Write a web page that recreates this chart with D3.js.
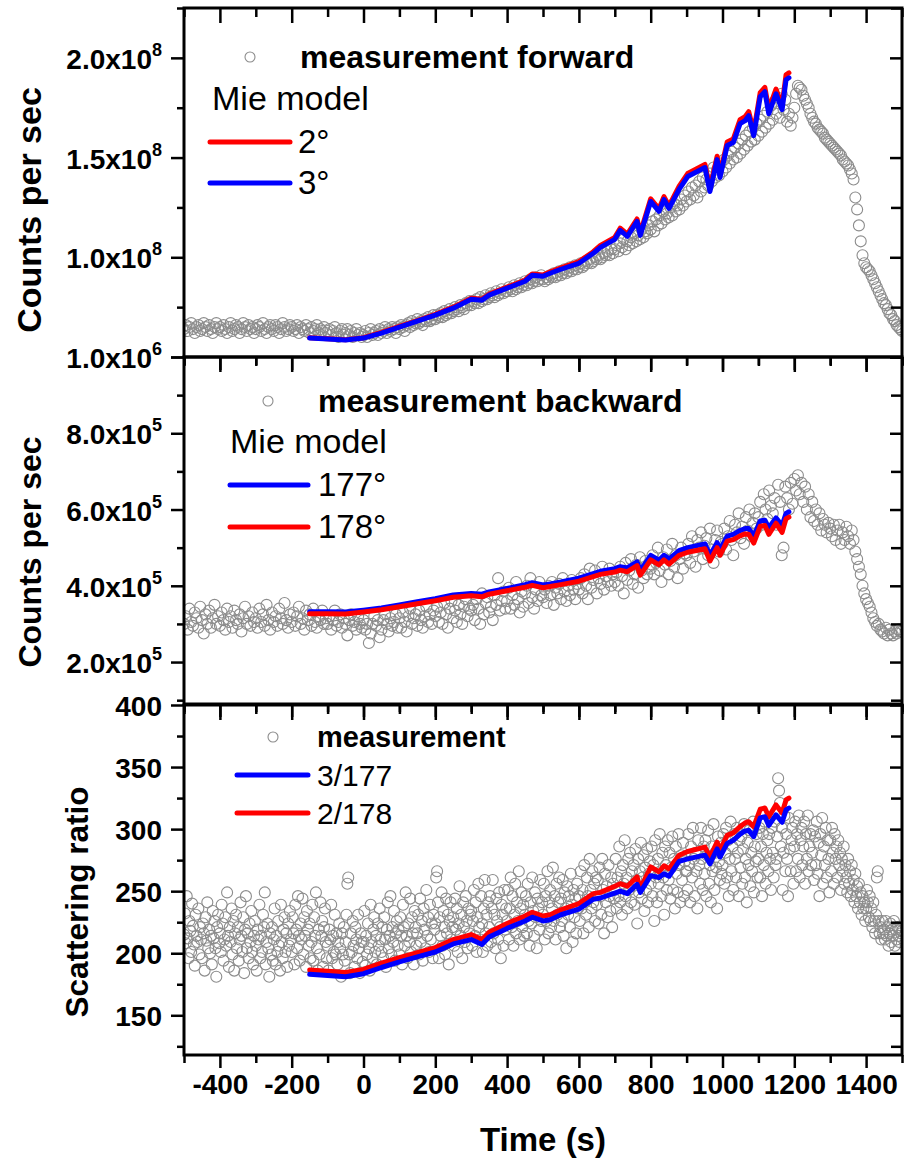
<!DOCTYPE html>
<html>
<head>
<meta charset="utf-8">
<script src="https://cdn.jsdelivr.net/npm/d3@7"></script>
<style>
  body { margin: 0; background: #fff; }
  svg { display: block; font-family: "Liberation Sans", Arial, sans-serif; }
</style>
</head>
<body>
<svg id="chart" width="908" height="1167"></svg>
<script>
// measured series start at t = -500 s, sampled every step seconds
const measStart = -500;
const fwdStep = 5, bwdStep = 5, ratioStep = 2.5;

// forward scattering, in 10^6 counts per sec (one row = 100 s)
const fwdMeas = [
  64, 66, 63, 65, 67, 64, 62, 65, 66, 63, 64, 67, 65, 63, 66, 64, 62, 65, 67, 64,
  65, 63, 66, 64, 62, 65, 67, 63, 64, 66, 65, 62, 64, 67, 65, 63, 66, 64, 65, 62,
  64, 66, 65, 63, 67, 64, 62, 65, 66, 64, 63, 66, 65, 62, 64, 67, 65, 63, 64, 66,
  65, 63, 64, 66, 62, 65, 64, 63, 66, 64, 62, 65, 63, 64, 66, 62, 64, 63, 65, 62,
  63, 64, 61, 63, 65, 62, 60, 63, 64, 61, 62, 64, 61, 63, 60, 62, 64, 61, 62, 60,
  61, 63, 60, 62, 64, 61, 62, 63, 61, 64, 62, 63, 65, 62, 64, 63, 65, 64, 62, 65,
  64, 66, 65, 63, 66, 67, 65, 68, 66, 67, 69, 67, 68, 66, 69, 68, 70, 68, 69, 71,
  69, 71, 70, 72, 70, 73, 71, 72, 74, 72, 73, 75, 74, 73, 76, 75, 74, 77, 76, 78,
  76, 78, 77, 79, 77, 80, 78, 79, 81, 79, 80, 82, 81, 80, 83, 81, 82, 84, 82, 83,
  83, 85, 84, 83, 86, 84, 85, 87, 85, 86, 88, 86, 87, 89, 87, 88, 90, 88, 89, 91,
  89, 88, 90, 89, 91, 90, 92, 90, 91, 93, 91, 92, 94, 92, 93, 95, 93, 94, 96, 94,
  95, 97, 95, 96, 98, 97, 99, 97, 98, 100, 99, 101, 99, 100, 102, 101, 103, 101, 104, 102,
  104, 106, 103, 107, 105, 109, 104, 108, 106, 110, 107, 112, 108, 111, 109, 114, 110, 113, 112, 116,
  114, 118, 113, 119, 116, 121, 117, 123, 119, 122, 120, 125, 121, 127, 123, 126, 124, 129, 126, 131,
  128, 133, 129, 135, 131, 136, 130, 138, 133, 140, 135, 139, 136, 142, 138, 145, 140, 144, 141, 147,
  143, 149, 145, 151, 147, 153, 149, 155, 150, 157, 152, 159, 154, 161, 156, 163, 158, 165, 159, 167,
  161, 169, 163, 171, 165, 173, 167, 176, 169, 178, 172, 180, 170, 182, 174, 179, 168, 172, 166, 170,
  175, 182, 186, 185, 184, 181, 179, 177, 175, 172, 170, 168, 167, 165, 164, 163, 162, 160, 159, 158,
  157, 156, 155, 154, 153, 152, 151, 149, 148, 147, 146, 144, 142, 139, 130, 124, 116, 108, 101, 97,
  95, 94, 93, 91, 89, 87, 85, 83, 81, 79, 77, 76, 74, 72, 71, 69, 68, 66, 65, 64,
  63
];

// backward scattering, in 10^3 counts per sec (one row = 100 s)
const bwdMeas = [
  300, 320, 285, 340, 305, 295, 330, 315, 290, 345, 310, 275, 325, 300, 335, 290, 315, 350, 300, 320,
  295, 330, 310, 285, 340, 305, 320, 290, 335, 310, 300, 325, 280, 315, 345, 300, 320, 295, 330, 305,
  315, 290, 340, 305, 325, 295, 350, 310, 285, 330, 305, 320, 295, 340, 315, 300, 355, 310, 290, 325,
  305, 330, 295, 320, 345, 300, 315, 285, 335, 310, 325, 295, 340, 305, 290, 320, 310, 335, 300, 315,
  300, 320, 285, 310, 335, 295, 305, 325, 290, 315, 300, 270, 310, 325, 295, 305, 285, 320, 300, 290,
  310, 285, 300, 250, 275, 300, 320, 295, 310, 265, 285, 310, 325, 300, 280, 315, 295, 305, 325, 290,
  315, 290, 330, 305, 280, 320, 340, 300, 315, 325, 295, 335, 310, 290, 320, 345, 305, 325, 300, 335,
  320, 345, 305, 330, 300, 355, 325, 290, 340, 360, 315, 335, 305, 350, 325, 300, 345, 365, 320, 340,
  335, 350, 310, 365, 340, 300, 380, 325, 355, 370, 330, 345, 310, 375, 350, 420, 335, 360, 385, 340,
  360, 395, 340, 375, 350, 410, 365, 330, 385, 345, 380, 400, 355, 420, 370, 340, 390, 360, 410, 375,
  370, 390, 355, 400, 375, 410, 350, 395, 380, 405, 365, 420, 385, 360, 400, 375, 415, 390, 365, 405,
  390, 420, 380, 430, 400, 365, 445, 395, 415, 440, 380, 420, 405, 450, 390, 425, 410, 445, 400, 430,
  410, 435, 400, 450, 425, 380, 460, 415, 440, 470, 405, 430, 455, 395, 475, 440, 420, 465, 430, 450,
  445, 480, 430, 460, 500, 440, 410, 475, 455, 495, 430, 465, 510, 450, 480, 420, 470, 500, 445, 485,
  480, 510, 460, 530, 490, 450, 520, 500, 540, 470, 505, 525, 480, 550, 495, 460, 520, 545, 490, 515,
  510, 550, 495, 530, 570, 520, 480, 560, 540, 590, 525, 555, 510, 580, 545, 600, 530, 565, 590, 550,
  580, 620, 560, 640, 600, 575, 650, 610, 590, 630, 560, 665, 620, 480, 500, 660, 630, 600, 670, 615,
  680, 650, 690, 640, 670, 620, 660, 600, 640, 580, 620, 570, 600, 560, 590, 545, 575, 560, 540, 565,
  550, 530, 560, 520, 545, 560, 510, 540, 520, 555, 530, 510, 545, 520, 490, 470, 450, 430, 400, 380,
  365, 355, 345, 330, 315, 305, 295, 300, 285, 280, 275, 290, 270, 285, 275, 270, 280, 275, 285, 280,
  280
];

// scattering ratio forward / backward (one row = 50 s)
const ratioMeas = [
  215, 232, 208, 246, 212, 196, 226, 218, 201, 240, 222, 207, 190, 231, 214, 209, 236, 199, 221, 211,
  196, 224, 216, 186, 229, 210, 241, 204, 219, 200, 214, 191, 234, 212, 226, 204, 181, 221, 231, 208,
  216, 201, 239, 224, 194, 211, 229, 206, 249, 214, 189, 221, 209, 236, 199, 226, 186, 216, 231, 204,
  221, 194, 211, 241, 214, 201, 229, 184, 219, 246, 204, 216, 196, 224, 209, 234, 201, 191, 214, 226,
  206, 186, 219, 211, 239, 196, 214, 201, 231, 221, 249, 191, 209, 224, 204, 181, 216, 199, 221, 194,
  211, 236, 191, 214, 201, 226, 206, 186, 239, 209, 196, 219, 229, 201, 216, 189, 224, 206, 234, 211,
  201, 229, 216, 191, 239, 219, 204, 246, 214, 194, 224, 211, 244, 199, 229, 214, 189, 234, 219, 206,
  224, 196, 209, 239, 194, 229, 214, 249, 204, 186, 219, 199, 241, 214, 226, 189, 221, 236, 209, 196,
  206, 186, 219, 211, 239, 196, 214, 201, 231, 199, 216, 191, 209, 224, 204, 181, 216, 199, 221, 194,
  209, 231, 256, 261, 199, 184, 216, 201, 226, 206, 189, 221, 211, 196, 231, 204, 184, 216, 209, 193,
  209, 234, 190, 214, 199, 224, 204, 186, 239, 209, 196, 219, 229, 201, 214, 191, 224, 206, 236, 211,
  201, 221, 196, 229, 211, 189, 219, 241, 204, 214, 246, 199, 221, 209, 234, 194, 216, 226, 206, 219,
  199, 229, 214, 191, 239, 221, 206, 249, 214, 196, 224, 209, 244, 201, 229, 216, 191, 234, 221, 206,
  216, 231, 199, 244, 209, 226, 194, 236, 219, 204, 251, 214, 229, 201, 239, 211, 224, 196, 231, 219,
  224, 261, 266, 241, 196, 229, 214, 249, 206, 234, 221, 199, 244, 216, 231, 191, 226, 241, 211, 221,
  229, 206, 244, 219, 236, 201, 224, 254, 214, 231, 196, 241, 221, 209, 246, 226, 204, 236, 216, 231,
  234, 206, 226, 251, 214, 241, 201, 229, 256, 221, 211, 246, 224, 201, 236, 259, 216, 231, 206, 241,
  221, 246, 209, 236, 259, 216, 231, 204, 244, 226, 211, 249, 221, 196, 239, 231, 206, 251, 219, 236,
  226, 251, 211, 236, 261, 221, 246, 206, 231, 256, 216, 241, 226, 266, 211, 236, 249, 221, 239, 214,
  231, 246, 216, 256, 226, 206, 241, 224, 261, 234, 214, 249, 229, 204, 244, 236, 219, 259, 226, 241,
  231, 256, 211, 246, 226, 266, 216, 241, 251, 221, 236, 269, 226, 246, 211, 256, 231, 241, 261, 221,
  244, 226, 259, 214, 249, 236, 204, 254, 231, 246, 221, 264, 239, 209, 251, 229, 244, 216, 256, 236,
  246, 226, 266, 236, 251, 216, 271, 241, 231, 261, 246, 221, 276, 251, 236, 266, 241, 256, 226, 261,
  239, 259, 224, 269, 246, 231, 276, 251, 216, 264, 241, 254, 229, 271, 246, 234, 261, 221, 256, 244,
  251, 276, 236, 261, 246, 286, 241, 266, 231, 271, 256, 291, 246, 261, 236, 276, 251, 281, 241, 266,
  254, 271, 239, 284, 259, 224, 276, 249, 266, 289, 244, 261, 279, 234, 269, 251, 284, 241, 264, 274,
  256, 286, 246, 271, 226, 291, 261, 241, 276, 256, 296, 266, 246, 281, 261, 231, 286, 271, 251, 291,
  259, 281, 244, 269, 294, 251, 276, 236, 286, 264, 249, 296, 271, 241, 279, 259, 289, 246, 274, 266,
  266, 251, 296, 271, 241, 286, 261, 301, 276, 246, 281, 266, 236, 291, 271, 256, 301, 276, 251, 286,
  264, 291, 246, 279, 299, 256, 271, 241, 286, 266, 304, 251, 281, 269, 236, 294, 274, 259, 289, 264,
  271, 296, 256, 281, 301, 261, 291, 246, 276, 306, 266, 286, 251, 296, 276, 261, 301, 281, 246, 291,
  269, 294, 256, 284, 304, 261, 276, 241, 289, 271, 299, 254, 281, 266, 306, 249, 286, 274, 296, 261,
  276, 301, 261, 286, 246, 296, 271, 306, 256, 281, 291, 266, 296, 276, 251, 301, 281, 261, 306, 271,
  276, 294, 341, 331, 321, 286, 301, 251, 281, 311, 266, 296, 276, 246, 309, 284, 266, 291, 301, 256,
  286, 306, 266, 296, 276, 311, 261, 291, 301, 271, 286, 306, 256, 296, 276, 311, 266, 286, 296, 271,
  281, 299, 259, 294, 271, 306, 264, 289, 246, 296, 279, 309, 256, 286, 271, 301, 261, 291, 276, 249,
  291, 266, 301, 281, 256, 296, 276, 286, 261, 291, 271, 281, 251, 276, 266, 286, 256, 271, 261, 249,
  276, 256, 266, 246, 271, 251, 259, 241, 264, 246, 254, 236, 256, 241, 249, 231, 246, 236, 241, 226,
  236, 251, 241, 229, 246, 226, 236, 221, 241, 226, 216, 231, 261, 266, 226, 216, 221, 211, 226, 216,
  219, 211, 226, 214, 221, 206, 216, 224, 209, 219, 214, 226, 206, 219, 211, 221, 214, 209, 219, 216,
  218
];

// Mie model, shared time grid (s)
const modelTime = [-150, -100, -50, 0, 50, 100, 150, 200, 250, 300, 330, 350, 400, 450, 470, 500, 520, 550,
  600, 640, 660, 700, 715, 735, 762, 771, 800, 823, 837, 851, 879, 903, 951, 965, 985, 993, 1013, 1030,
  1049, 1063, 1073, 1087, 1105, 1118, 1129, 1149, 1166, 1177, 1185];
// forward, 10^6 counts per sec
const mie2 = [59.7, 59.2, 58.7, 59.7, 62.3, 65.3, 68.3, 71.4, 75, 79.5, 79, 81.5, 85, 88.6, 91.6, 91.1, 92.7, 94.7,
  97.8, 102.8, 106, 110, 114.6, 111.6, 119.2, 112.2, 129.3, 124.3, 130.4, 125.8, 135.5, 142, 146.6, 134.5, 150.7,
  141.6, 157.8, 159.3, 169, 170.5, 173, 163, 182.6, 185.2, 174.2, 184.3, 176.2, 191.5, 192.5];
const mie3 = [59.5, 59, 58.5, 59.5, 62, 65, 68, 71, 74.5, 79, 78.5, 81, 84.5, 88, 91, 90.5, 92, 94,
  97, 102, 105, 109, 113.5, 110.5, 118, 111, 128, 123, 129, 124.5, 134, 140.5, 145, 133, 149,
  140, 156, 157.5, 167, 168.5, 171, 161, 180.5, 183, 172, 182, 174, 189, 190];
// backward, 10^3 counts per sec
const mie177 = [332, 332, 331, 336, 342, 350, 358, 366, 376, 380, 378, 384, 393, 403, 408, 402, 405, 410,
  420, 432, 438, 445, 450, 447, 463, 440, 480, 467, 480, 470, 492, 500, 510, 480, 513, 495, 530, 535,
  545, 550, 550, 530, 570, 572, 552, 578, 558, 590, 594];
const mie178 = [327, 327, 326, 331, 337, 345, 353, 361, 370, 374, 371, 378, 387, 396, 401, 395, 398, 403,
  412, 424, 430, 436, 441, 437, 453, 428, 468, 455, 468, 457, 480, 488, 497, 465, 500, 480, 517, 521,
  531, 536, 535, 512, 556, 558, 535, 564, 540, 576, 580];
// ratio
const ratio3_177 = [183, 182, 181, 183.5, 188.5, 193, 197, 201, 207.5, 211, 207, 213, 220, 226, 229, 226, 227, 231,
  235.5, 243.5, 244.5, 248.5, 250, 248, 255.5, 249, 262.5, 261, 264, 262, 274, 276, 279, 272, 284, 277.5, 288.5, 291,
  296, 298.5, 299, 294, 309, 310, 303, 311.5, 305.5, 315.5, 317];
const ratio2_178 = [186.5, 185.5, 184.5, 187, 192, 196.5, 200.5, 204.5, 211, 215, 211, 217, 224, 230, 233, 230, 231, 235,
  240, 248, 249, 254, 256, 254, 261.5, 252, 269.5, 265.5, 270.5, 268, 279, 282, 285.5, 277.5, 289.5, 283, 295, 297,
  302, 305, 306, 302, 316, 317, 310, 319.5, 313, 323.5, 325];

// tick labels
const xTickLabels = ["-400", "-200", "0", "200", "400", "600", "800", "1000", "1200", "1400"];
const fwdLabels = [[200, "2.0x10", "8"], [150, "1.5x10", "8"], [100, "1.0x10", "8"]];
const bwdLabels = [[1000, "1.0x10", "6"], [800, "8.0x10", "5"], [600, "6.0x10", "5"], [400, "4.0x10", "5"], [200, "2.0x10", "5"]];
const ratioLabels = [[400, "400"], [350, "350"], [300, "300"], [250, "250"], [200, "200"], [150, "150"]];

const RED = "#ff0000", BLUE = "#0000ff", GREY = "#8c8c8c";
const svg = d3.select("#chart");
const x = d3.scaleLinear().domain([-500, 1500]).range([184, 902]);
const xMajor = xTickLabels.map(Number);
const xMinor = d3.range(-500, 1501, 200);

const panels = [
  { top: 8, bottom: 357, domain: [50, 225], major: [50, 100, 150, 200], minor: [75, 125, 175, 225],
    labels: fwdLabels, meas: fwdMeas, step: fwdStep,
    lines: [[mie2, RED], [mie3, BLUE]],
    title: "Counts per sec", titleSize: 34, titleX: 41, titleY: 210,
    legend: { circle: [250, 57], head: ["measurement forward", 300, 68, 32],
      sub: ["Mie model", 212, 110],
      items: [["2°", RED, 142], ["3°", BLUE, 183]], lx: [210, 290], tx: 298, size: 33 } },
  { top: 357, bottom: 704, domain: [90, 1000], major: [200, 400, 600, 800, 1000], minor: [100, 300, 500, 700, 900],
    labels: bwdLabels, meas: bwdMeas, step: bwdStep,
    lines: [[mie177, BLUE], [mie178, RED]],
    title: "Counts per sec", titleSize: 32, titleX: 41, titleY: 552,
    legend: { circle: [268, 401], head: ["measurement backward", 318, 412, 32],
      sub: ["Mie model", 230, 453],
      items: [["177°", BLUE, 485], ["178°", RED, 527]], lx: [230, 308], tx: 318, size: 33 } },
  { top: 705, bottom: 1055, domain: [118, 400], major: [150, 200, 250, 300, 350, 400], minor: [125, 175, 225, 275, 325, 375],
    labels: ratioLabels, meas: ratioMeas, step: ratioStep,
    lines: [[ratio2_178, RED], [ratio3_177, BLUE]],
    title: "Scattering ratio", titleSize: 31.5, titleX: 88, titleY: 902,
    legend: { circle: [273, 737], head: ["measurement", 317, 747, 29],
      sub: null,
      items: [["3/177", BLUE, 775], ["2/178", RED, 813]], lx: [237, 308], tx: 317, size: 30 } }
];

function cleanAxis(g) {
  g.attr("font-family", null).attr("font-size", null);
  g.select(".domain").remove();
  g.selectAll(".tick line").attr("stroke", "#000").attr("stroke-width", 2.5);
}

const x0 = x.range()[0], x1 = x.range()[1];

panels.forEach((p, i) => {
  const y = d3.scaleLinear().domain(p.domain).range([p.bottom, p.top]);
  const g = svg.append("g");

  svg.append("clipPath").attr("id", "clip" + i)
    .append("rect").attr("x", x0).attr("y", p.top).attr("width", x1 - x0).attr("height", p.bottom - p.top);

  const plot = g.append("g").attr("clip-path", `url(#clip${i})`);
  plot.selectAll("circle")
    .data(p.meas)
    .join("circle")
    .attr("cx", (d, k) => x(measStart + k * p.step))
    .attr("cy", d => y(d))
    .attr("r", 5.5)
    .attr("fill", "none")
    .attr("stroke", GREY)
    .attr("stroke-width", 1.1);

  const line = d3.line().x((d, k) => x(modelTime[k])).y(d => y(d));
  p.lines.forEach(([vals, color]) => {
    plot.append("path").datum(vals)
      .attr("d", line)
      .attr("fill", "none")
      .attr("stroke", color)
      .attr("stroke-width", 5)
      .attr("stroke-linejoin", "round")
      .attr("stroke-linecap", "round");
  });

  // left axis: outward ticks
  g.append("g").attr("transform", `translate(${x0},0)`)
    .call(d3.axisLeft(y).tickValues(p.minor).tickSize(7).tickFormat(""))
    .call(cleanAxis);
  g.append("g").attr("transform", `translate(${x0},0)`)
    .call(d3.axisLeft(y).tickValues(p.major).tickSize(13).tickFormat(""))
    .call(cleanAxis);
  // right axis: inward ticks
  g.append("g").attr("transform", `translate(${x1},0)`)
    .call(d3.axisRight(y).tickValues(p.minor).tickSize(-11).tickFormat(""))
    .call(cleanAxis);
  g.append("g").attr("transform", `translate(${x1},0)`)
    .call(d3.axisRight(y).tickValues(p.major).tickSize(-12).tickFormat(""))
    .call(cleanAxis);
  // top: inward ticks
  g.append("g").attr("transform", `translate(0,${p.top})`)
    .call(d3.axisTop(x).tickValues(xMinor).tickSize(-9).tickFormat(""))
    .call(cleanAxis);
  g.append("g").attr("transform", `translate(0,${p.top})`)
    .call(d3.axisTop(x).tickValues(xMajor).tickSize(-15).tickFormat(""))
    .call(cleanAxis);
  // bottom: outward ticks
  g.append("g").attr("transform", `translate(0,${p.bottom})`)
    .call(d3.axisBottom(x).tickValues(xMinor).tickSize(8).tickFormat(""))
    .call(cleanAxis);
  const bottomAxis = g.append("g").attr("transform", `translate(0,${p.bottom})`)
    .call(d3.axisBottom(x).tickValues(xMajor).tickSize(13)
      .tickFormat((d, k) => i === panels.length - 1 ? xTickLabels[k] : ""))
    .call(cleanAxis);
  bottomAxis.selectAll(".tick text")
    .attr("y", 39).attr("dy", null)
    .attr("fill", "#000").attr("font-size", 28).attr("font-weight", "bold");

  g.append("rect")
    .attr("x", x0).attr("y", p.top)
    .attr("width", x1 - x0).attr("height", p.bottom - p.top)
    .attr("fill", "none").attr("stroke", "#000").attr("stroke-width", 3);

  // y tick labels with superscript exponent
  p.labels.forEach(([v, base, sup]) => {
    const t = g.append("text")
      .attr("x", 162).attr("y", y(v) + 11)
      .attr("text-anchor", "end")
      .attr("font-size", 28).attr("font-weight", "bold")
      .text(base);
    if (sup) t.append("tspan").attr("dy", -13).attr("font-size", 18).text(sup);
  });

  g.append("text")
    .attr("transform", `translate(${p.titleX},${p.titleY}) rotate(-90)`)
    .attr("text-anchor", "middle")
    .attr("font-size", p.titleSize).attr("font-weight", "bold")
    .text(p.title);

  const L = p.legend;
  g.append("circle").attr("cx", L.circle[0]).attr("cy", L.circle[1]).attr("r", 5)
    .attr("fill", "none").attr("stroke", GREY).attr("stroke-width", 1.1);
  g.append("text").attr("x", L.head[1]).attr("y", L.head[2])
    .attr("font-size", L.head[3]).attr("font-weight", "bold").text(L.head[0]);
  if (L.sub) {
    g.append("text").attr("x", L.sub[1]).attr("y", L.sub[2]).attr("font-size", 34).text(L.sub[0]);
  }
  L.items.forEach(([label, color, ly]) => {
    g.append("line").attr("x1", L.lx[0]).attr("x2", L.lx[1]).attr("y1", ly).attr("y2", ly)
      .attr("stroke", color).attr("stroke-width", 5).attr("stroke-linecap", "round");
    g.append("text").attr("x", L.tx).attr("y", ly + 11).attr("font-size", L.size).text(label);
  });
});

svg.append("text")
  .attr("x", (x0 + x1) / 2).attr("y", 1151)
  .attr("text-anchor", "middle")
  .attr("font-size", 33).attr("font-weight", "bold")
  .text("Time (s)");
</script>
</body>
</html>
